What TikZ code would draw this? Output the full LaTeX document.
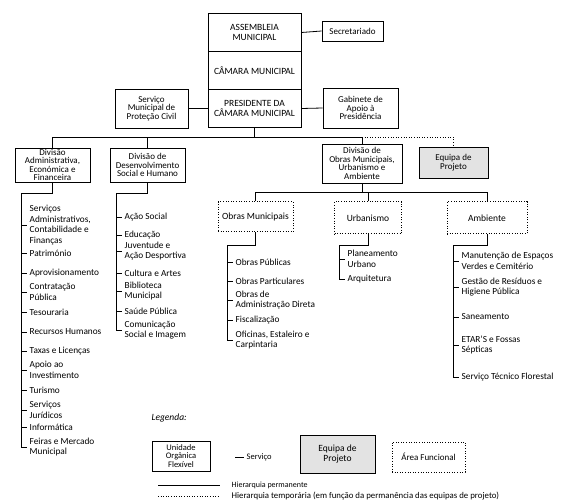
\documentclass[tikz,border=0pt]{standalone}
\usepackage{fontspec}
\setmainfont{Carlito}
\usetikzlibrary{positioning, calc}

\tikzset{
  unit/.style={draw, line width=0.8pt, align=center, inner sep=1pt, font=\fontsize{9}{8.6}\selectfont},
  topcell/.style={unit, minimum width=93pt, minimum height=38pt, font=\fontsize{9.5}{10}\selectfont},
  area/.style={draw, line width=1pt, dash pattern=on 0.9pt off 1.7pt, align=center, font=\fontsize{9.5}{10.5}\selectfont},
  team/.style={unit, fill=gray!22},
  serv/.style={anchor=west, align=left, inner sep=0.5pt, font=\fontsize{9.3}{10.4}\selectfont},
  link/.style={line width=0.8pt},
  tlink/.style={line width=0.9pt, dash pattern=on 0.9pt off 1.7pt}
}

\begin{document}
\begin{tikzpicture}[x=1pt, y=-1pt]
\useasboundingbox (0,0) rectangle (566,500);

% Top bodies
\node[topcell] (am) at (254.5, 32.5) {ASSEMBLEIA\\MUNICIPAL};
\node[topcell] (cm) at (254.5, 70.5) {CÂMARA MUNICIPAL};
\node[topcell] (pcm) at (254.5, 108.5) {PRESIDENTE DA\\CÂMARA MUNICIPAL};
\node[unit, minimum width=61pt, minimum height=20pt] (sec) at (352.5, 31) {Secretariado};
\node[unit, minimum width=75pt, minimum height=40pt] (gab) at (360.5, 108) {Gabinete de\\Apoio à\\Presidência};
\node[unit, minimum width=73pt, minimum height=39pt] (pc) at (151.5, 108.5) {Serviço\\Municipal de\\Proteção Civil};
\draw[link] (am.east) -- (sec.west);
\draw[link] (pcm.east) -- (gab.west);
\draw[link] (pcm.west) -- (pc.east);

% Divisions
\node[unit, minimum width=75pt, minimum height=34pt] (daef) at (52.5, 165) {Divisão\\Administrativa,\\Económica e\\Financeira};
\node[unit, minimum width=75pt, minimum height=34pt] (ddsh) at (147.5, 165) {Divisão de\\Desenvolvimento\\Social e Humano};
\node[unit, minimum width=80pt, minimum height=39pt] (domua) at (362, 163.5) {Divisão de\\Obras Municipais,\\Urbanismo e\\Ambiente};
\node[team, minimum width=69pt, minimum height=31pt] (ep) at (453.5, 162.5) {Equipa de\\Projeto};
\draw[link] (pcm.south) -- ++(0,9.5) coordinate (b0);
\draw[link] (daef.north) |- (b0) -| (domua.north);
\draw[link] (ddsh.north) -- (ddsh.north |- b0);
\draw[tlink] (domua.north |- b0) -| (ep.north);

% Functional areas
\node[area, minimum width=75pt, minimum height=30pt] (om) at (255.5, 217) {Obras Municipais};
\node[area, minimum width=67pt, minimum height=32pt] (ur) at (368, 218) {Urbanismo};
\node[area, minimum width=80pt, minimum height=32pt] (amb) at (487, 218) {Ambiente};
\draw[link] (domua.south) -- ++(0,9.5) coordinate (b1);
\draw[link] (om.north) |- (b1) -| (amb.north);
\draw[link] (ur.north) -- (ur.north |- b1);

% Services - Divisao Administrativa
\coordinate (spAF) at (21, 193);
\node[serv] (af1) at (29, 225) {Serviços\\Administrativos,\\Contabilidade e\\Finanças};
\node[serv] (af2) at (29, 253) {Património};
\node[serv] (af3) at (29, 273) {Aprovisionamento};
\node[serv] (af4) at (29, 292) {Contratação\\Pública};
\node[serv] (af5) at (29, 312) {Tesouraria};
\node[serv] (af6) at (29, 332) {Recursos Humanos};
\node[serv] (af7) at (29, 351) {Taxas e Licenças};
\node[serv] (af8) at (29, 370) {Apoio ao\\Investimento};
\node[serv] (af9) at (29, 390) {Turismo};
\node[serv] (af10) at (29, 410) {Serviços\\Jurídicos};
\node[serv] (af11) at (29, 427) {Informática};
\node[serv] (af12) at (29, 447) {Feiras e Mercado\\Municipal};
\draw[link] (daef.south) |- (spAF) -- (spAF |- af12.west) -- ([xshift=-2pt]af12.west);
\foreach \i in {1,...,11}
  \draw[link, shorten >=2pt] (spAF |- af\i.west) -- (af\i.west);

% Services - Divisao Desenvolvimento Social
\coordinate (spDS) at (116, 193);
\node[serv] (ds1) at (124, 217) {Ação Social};
\node[serv] (ds2) at (124, 235) {Educação};
\node[serv] (ds3) at (124, 251) {Juventude e\\Ação Desportiva};
\node[serv] (ds4) at (124, 273) {Cultura e Artes};
\node[serv] (ds5) at (124, 291) {Biblioteca\\Municipal};
\node[serv] (ds6) at (124, 311) {Saúde Pública};
\node[serv] (ds7) at (124, 330) {Comunicação\\Social e Imagem};
\draw[link] (ddsh.south) |- (spDS) -- (spDS |- ds7.west) -- ([xshift=-2pt]ds7.west);
\foreach \i in {1,...,6}
  \draw[link, shorten >=2pt] (spDS |- ds\i.west) -- (ds\i.west);

% Services - Obras Municipais
\coordinate (spOM) at (227, 245);
\node[serv] (om1) at (235, 262) {Obras Públicas};
\node[serv] (om2) at (235, 281) {Obras Particulares};
\node[serv] (om3) at (235, 300) {Obras de\\Administração Direta};
\node[serv] (om4) at (235, 320) {Fiscalização};
\node[serv] (om5) at (235, 340) {Oficinas, Estaleiro e\\Carpintaria};
\draw[link] (om.south) |- (spOM) -- (spOM |- om5.west) -- ([xshift=-2pt]om5.west);
\foreach \i in {1,...,4}
  \draw[link, shorten >=2pt] (spOM |- om\i.west) -- (om\i.west);

% Services - Urbanismo
\coordinate (spUR) at (339, 245);
\node[serv] (ur1) at (347, 259) {Planeamento\\Urbano};
\node[serv] (ur2) at (347, 279) {Arquitetura};
\draw[link] (ur.south) |- (spUR) -- (spUR |- ur2.west) -- ([xshift=-2pt]ur2.west);
\draw[link, shorten >=2pt] (spUR |- ur1.west) -- (ur1.west);

% Services - Ambiente
\coordinate (spAM) at (453, 245);
\node[serv] (amb1) at (461, 261) {Manutenção de Espaços\\Verdes e Cemitério};
\node[serv] (amb2) at (461, 287) {Gestão de Resíduos e\\Higiene Pública};
\node[serv] (amb3) at (461, 317) {Saneamento};
\node[serv] (amb4) at (461, 345) {ETAR'S e Fossas\\Sépticas};
\node[serv] (amb5) at (461, 377) {Serviço Técnico Florestal};
\draw[link] (amb.south) |- (spAM) -- (spAM |- amb5.west) -- ([xshift=-2pt]amb5.west);
\foreach \i in {1,...,4}
  \draw[link, shorten >=2pt] (spAM |- amb\i.west) -- (amb\i.west);

% Legend
\node[anchor=west, font=\fontsize{9.5}{10}\selectfont\itshape] (leg) at (148, 418) {Legenda:};
\node[unit, minimum width=58pt, minimum height=30pt, font=\fontsize{8.5}{8.6}\selectfont] (luo) at (181, 456) {Unidade\\Orgânica\\Flexível};
\coordinate (lsl) at (235, 457);
\node[serv, font=\fontsize{8.5}{9}\selectfont] (lserv) at (246, 457) {Serviço};
\draw[link, shorten >=2pt] (lsl) -- (lserv.west);
\node[team, minimum width=75pt, minimum height=38pt, font=\fontsize{9.5}{10}\selectfont] (lep) at (337.5, 454) {Equipa de\\Projeto};
\node[area, minimum width=73pt, minimum height=30pt, font=\fontsize{9}{9}\selectfont] (laf) at (428.5, 457) {Área Funcional};
\coordinate (lh1a) at (158, 485);
\coordinate (lh1b) at (220, 485);
\coordinate (lh2a) at (158, 496);
\coordinate (lh2b) at (220, 496);
\node[serv, font=\fontsize{8}{8.5}\selectfont] (lh1) at (231, 485) {Hierarquia permanente};
\node[serv, font=\fontsize{8.8}{9}\selectfont] (lh2) at (231, 496) {Hierarquia temporária (em função da permanência das equipas de projeto)};
\draw[link] (lh1a) -- (lh1b);
\draw[tlink] (lh2a) -- (lh2b);

\end{tikzpicture}
\end{document}
